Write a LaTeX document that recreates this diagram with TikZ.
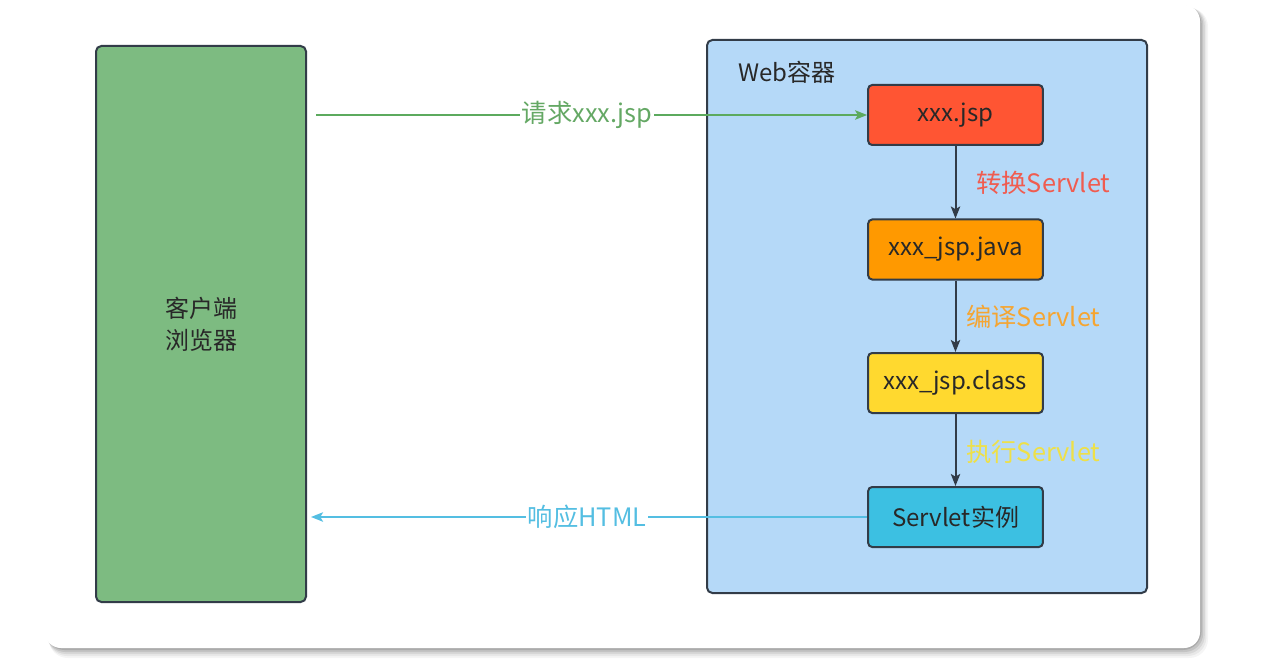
\documentclass[tikz,border=0pt]{standalone}
\usepackage{fontspec}
\setmainfont{Noto Sans CJK SC}
\usetikzlibrary{arrows.meta}
\definecolor{bord}{RGB}{50,60,72}
\definecolor{cgreen}{RGB}{125,187,129}
\definecolor{lgreen}{RGB}{92,170,94}
\definecolor{tgreen}{RGB}{100,168,100}
\definecolor{cblue}{RGB}{181,217,248}
\definecolor{cred}{RGB}{255,85,51}
\definecolor{corange}{RGB}{255,153,0}
\definecolor{cyellow}{RGB}{255,217,47}
\definecolor{ccyan}{RGB}{60,192,226}
\definecolor{tred}{RGB}{240,92,80}
\definecolor{torange}{RGB}{245,165,50}
\definecolor{tyellow}{RGB}{238,224,72}
\definecolor{lcyan}{RGB}{84,190,226}
\definecolor{dtext}{RGB}{40,40,40}
\tikzset{
  txt/.style={font=\fontsize{18}{24}\selectfont},
  ltxt/.style={font=\fontsize{19}{24}\selectfont},
  stepbox/.style={draw=bord, line width=1.5pt, rounded corners=3pt, minimum width=131pt, minimum height=45pt, text=dtext, txt},
  bigbox/.style={draw=bord, line width=1.5pt, rounded corners=4pt},
  darr/.style={draw=bord, line width=1.5pt, -{Stealth[length=9pt,width=7pt,inset=2pt]}},
  lbl/.style={ltxt, anchor=west, inner sep=0pt},
  onl/.style={ltxt, fill=white, inner sep=1pt}
}
\begin{document}
\begin{tikzpicture}[x=0.75pt,y=-0.75pt]
\useasboundingbox (0,0) rectangle (1264,663);
\fill[white] (0,0) rectangle (1264,663);
% card shadow
\foreach \d/\o in {10/0.04,8/0.05,6/0.07,4/0.09,2/0.12}
  \fill[black,opacity=\o,rounded corners=14] (45+\d*0.4,5+\d*0.3) rectangle (1200+\d*0.8,648+\d);
\fill[white,rounded corners=12] (45,5) rectangle (1200,648);
% client box
\node[bigbox, fill=cgreen, minimum width=157.5pt, minimum height=417pt, align=center, txt, text=dtext] (client) at (201,324) {客户端\\浏览器};
% container
\node[bigbox, fill=cblue, minimum width=330pt, minimum height=414.75pt] (web) at (927,316.5) {};
\node[anchor=west, inner sep=0pt, txt, text=dtext] (webl) at (738,72) {Web容器};
% steps
\node[stepbox, fill=cred] (jsp) at (955.5,115) {xxx.jsp};
\node[stepbox, fill=corange] (java) at (955.5,249.5) {xxx\_jsp.java};
\node[stepbox, fill=cyellow] (cls) at (955.5,383) {xxx\_jsp.class};
\node[stepbox, fill=ccyan] (inst) at (955.5,517) {Servlet实例};
% vertical arrows
\draw[darr] (jsp) -- (java);
\draw[darr] (java) -- (cls);
\draw[darr] (cls) -- (inst);
\node[lbl, text=tred] (l1) at (976,183) {转换Servlet};
\node[lbl, text=torange] (l2) at (966,317) {编译Servlet};
\node[lbl, text=tyellow] (l3) at (966,452) {执行Servlet};
% request
\draw[draw=lgreen, line width=1.5pt, shorten <=6.75pt, -{Stealth[length=9pt,width=7pt,inset=2pt]}]
  (client.east |- jsp.west) -- node[onl, text=tgreen] (req) {请求xxx.jsp} (jsp.west);
% response
\draw[draw=lcyan, line width=1.5pt, shorten >=3pt, -{Stealth[length=9pt,width=7pt,inset=2pt]}]
  (inst.west) -- node[onl, text=lcyan] (resp) {响应HTML} (client.east |- inst.west);
\end{tikzpicture}
\end{document}
